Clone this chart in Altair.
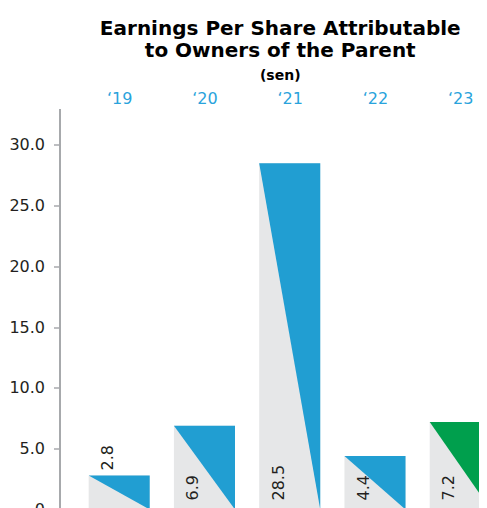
import altair as alt
import pandas as pd

# ---- data ----
years = ["\u201819", "\u201820", "\u201821", "\u201822", "\u201823"]
eps = [2.8, 6.9, 28.5, 4.4, 7.2]
eps_labels = ["2.8", "6.9", "28.5", "4.4", "7.2"]
y_ticks = [0, 5, 10, 15, 20, 25, 30]
period = ["past", "past", "past", "past", "current"]

FONT = "DejaVu Sans"
BLUE = "#219ed2"
GREEN = "#009f4d"
GREY = "#e6e7e8"
AXIS_GREY = "#a7a9ac"
INK = "#231f20"
HALF = 0.358  # half of a bar's width, in category units

n = len(years)
idx = list(range(n))

bars = pd.DataFrame({"i": idx, "year": years, "eps": eps, "label": eps_labels, "period": period})
bars["left"] = bars["i"] - HALF
bars["right"] = bars["i"] + HALF
bars["zero"] = 0.0

tri = pd.concat([
    pd.DataFrame({"year": years, "x": bars["left"], "top": eps, "bottom": eps, "period": period}),
    pd.DataFrame({"year": years, "x": bars["right"], "top": eps, "bottom": [0.0] * n, "period": period}),
], ignore_index=True)

label_expr = "[" + ",".join("'" + y + "'" for y in years) + "][datum.value]"

# the reference is cropped at the right and bottom: the scales run a little past the visible frame
xscale = alt.Scale(domain=[-0.7, 4.22], nice=False, zero=False)
yscale = alt.Scale(domain=[0, 33], nice=False)

xaxis = alt.Axis(orient="top", values=idx, labelExpr=label_expr, domain=False, ticks=False,
                 grid=False, title=None, labelColor="#29a3dc", labelFontSize=16,
                 labelFont=FONT, labelPadding=2, labelAngle=0)
yaxis = alt.Axis(values=y_ticks, labelExpr="datum.value == 0 ? '0' : format(datum.value, '.1f')",
                 domainColor=AXIS_GREY, domainWidth=2, tickColor=AXIS_GREY, tickSize=6,
                 tickWidth=1.5, labelFontSize=16, labelFont=FONT, labelColor=INK,
                 labelPadding=9, grid=False, title=None)

grey = alt.Chart(bars).mark_rect(color=GREY).encode(
    x=alt.X("left:Q", scale=xscale, axis=xaxis),
    x2="right:Q",
    y=alt.Y("eps:Q", scale=yscale, axis=yaxis),
    y2="zero:Q",
)

triangles = alt.Chart(tri).mark_area(interpolate="linear", opacity=1).encode(
    x=alt.X("x:Q", scale=xscale),
    y=alt.Y("top:Q", scale=yscale),
    y2="bottom:Q",
    detail="year:N",
    color=alt.Color("period:N", scale=alt.Scale(domain=["past", "current"], range=[BLUE, GREEN]), legend=None),
)

inside = alt.Chart(bars).transform_filter("datum.eps >= 4").mark_text(
    angle=270, align="left", baseline="middle", dx=9, dy=-11, fontSize=16, font=FONT, color=INK
).encode(x=alt.X("i:Q", scale=xscale), y=alt.Y("zero:Q", scale=yscale), text="label:N")

above = alt.Chart(bars).transform_filter("datum.eps < 4").mark_text(
    angle=270, align="left", baseline="middle", dx=5, dy=-11, fontSize=16, font=FONT, color=INK
).encode(x=alt.X("i:Q", scale=xscale), y=alt.Y("eps:Q", scale=yscale), text="label:N")

chart = alt.layer(grey, triangles, inside, above).properties(
    width=419.5,
    height=401,
    title=alt.TitleParams(
        text=["Earnings Per Share Attributable", "to Owners of the Parent"],
        subtitle="(sen)",
        font=FONT, fontSize=20, fontWeight="bold", color="#000000", lineHeight=22,
        subtitleFont=FONT, subtitleFontSize=14, subtitleFontWeight="bold", subtitleColor="#000000",
        subtitlePadding=8, anchor="middle", offset=8, dx=11,
    ),
    autosize=alt.AutoSizeParams(type="none"),
    padding={"left": 51.5, "top": 100.5, "right": 0, "bottom": 20},
).configure_view(stroke=None)

chart.save("out.html", embed_options={"renderer": "svg", "actions": False})
